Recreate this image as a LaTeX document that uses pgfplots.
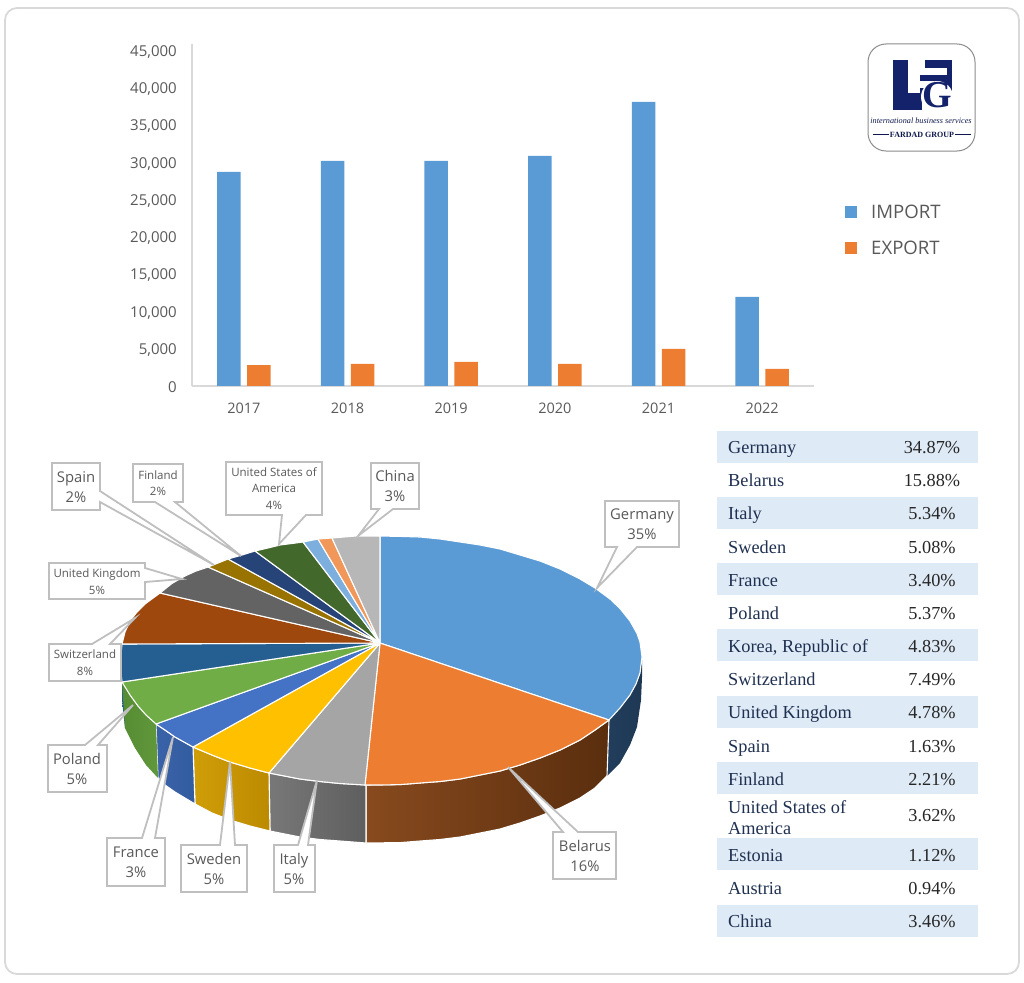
\documentclass[border=0pt]{standalone}
\usepackage{fontspec}
\usepackage{pgfplots}
\pgfplotsset{compat=1.18}
\setmainfont{Open Sans}
\newfontfamily\tabfont{Liberation Serif}
\definecolor{tick}{HTML}{595959}
\definecolor{axln}{HTML}{D9D9D9}
\definecolor{band}{HTML}{DEEAF6}
\definecolor{navy}{HTML}{14216B}
\definecolor{tname}{HTML}{1F3050}
\definecolor{cog}{HTML}{BFBFBF}
\definecolor{cGermany}{HTML}{5B9BD5}
\definecolor{cBelarus}{HTML}{ED7D31}
\definecolor{cItaly}{HTML}{A5A5A5}
\definecolor{cSweden}{HTML}{FFC000}
\definecolor{cFrance}{HTML}{4472C4}
\definecolor{cPoland}{HTML}{70AD47}
\definecolor{cKorea}{HTML}{255E91}
\definecolor{cSwiss}{HTML}{9E480E}
\definecolor{cUK}{HTML}{636363}
\definecolor{cSpain}{HTML}{997300}
\definecolor{cFinland}{HTML}{264478}
\definecolor{cUSA}{HTML}{43682B}
\definecolor{cEstonia}{HTML}{7CAFDD}
\definecolor{cAustria}{HTML}{F1975A}
\definecolor{cChina}{HTML}{B7B7B7}
\newcommand{\fs}[2]{\fontsize{#1}{#2}\selectfont}
\tikzset{co/.style={draw=cog,fill=white,line width=1.8pt,line join=miter},
  lb/.style={text=tick,align=center,inner sep=0pt},
  big/.style={lb,font=\fs{14.8}{20}},
  small/.style={lb,font=\fs{11.5}{16.5}},
  wd/.style={draw=white,line width=1.1pt,line join=round},
  tn/.style={inner sep=0pt,text=tname,font=\tabfont\fs{18.3}{21}}}
\newcommand{\trow}[3]{\node[tn,anchor=base west,yshift=-6pt] at (728,#1) {#2};
  \node[tn,text=black!85,anchor=base,yshift=-6pt] at (932,#1) {#3};}
\newcommand{\bandrow}[2]{\fill[band] (717,#1) rectangle (978,#2);}
\begin{document}
\begin{tikzpicture}
\useasboundingbox (0,0) rectangle (1024pt,982pt);
\begin{axis}[at={(0pt,0pt)},anchor=south west,width=1024pt,height=982pt,scale only axis,
  xmin=0,xmax=1024,ymin=0,ymax=982,y dir=reverse,hide axis,clip=false]
% frame
\draw[draw=axln,line width=1.8pt,rounded corners=12pt] (5,8) rectangle (1019,974);
% y axis stub above the top tick
\draw[draw=axln,line width=1.6pt] (192,44) -- (192,52);
% logo
\draw[draw=black!45,line width=1pt,rounded corners=18pt] (868,44) rectangle (975,151);
\fill[navy] (893,60) rectangle (952,110);
\fill[white] (908,60) rectangle (925,68);
\fill[white] (908,68) rectangle (947,75);
\fill[white] (908,68) rectangle (920,93);
\fill[white] (908,81) rectangle (934,88);
\fill[white] (937,97) circle (16pt);
\fill[white] (922,98) rectangle (952,110);
\node[inner sep=0pt,text=navy] at (937,95) {\tabfont\bfseries\fs{38}{38}G};
\node[inner sep=0pt,text=navy!70!black] at (921,121) {\tabfont\itshape\fs{8.2}{9}international business services};
\node[inner sep=0pt,text=navy!70!black] at (922,134.5) {\tabfont\bfseries\fs{8}{9}FARDAD GROUP};
\draw[navy!70!black,line width=.8pt] (873,134.5) -- (889,134.5) (955,134.5) -- (971,134.5);
% table bands
\bandrow{431}{463}
\bandrow{497}{529}
\bandrow{563}{595}
\bandrow{629}{661}
\bandrow{696}{728}
\bandrow{762}{794}
\bandrow{838}{870}
\bandrow{905}{937}
\trow{447}{Germany}{34.87\%}
\trow{480}{Belarus}{15.88\%}
\trow{513}{Italy}{5.34\%}
\trow{547}{Sweden}{5.08\%}
\trow{580}{France}{3.40\%}
\trow{613}{Poland}{5.37\%}
\trow{646}{Korea, Republic of}{4.83\%}
\trow{679}{Switzerland}{7.49\%}
\trow{712}{United Kingdom}{4.78\%}
\trow{746}{Spain}{1.63\%}
\trow{779}{Finland}{2.21\%}
\trow{807}{United States of}{}
\trow{828}{America}{}
\node[tn,text=black!85,anchor=base,yshift=-6pt] at (932,815) {3.62\%};
\trow{855}{Estonia}{1.12\%}
\trow{888}{Austria}{0.94\%}
\trow{921}{China}{3.46\%}
% pie sides
\addplot[draw=none,left color=cKorea,right color=cKorea!70!black] coordinates {(122,682)(122,700)(125,728)(128,728)(124,690)} --cycle;
\addplot[draw=none,left color={rgb,255:red,34;green,62;blue,92},right color={rgb,255:red,30;green,56;blue,84}] coordinates {(609,720)(620,708)(630,695)(636,684)(640,673)(642,660)(642,677)(641,700)(637,727)(630,745)(620,763)(607,776)} --cycle;
\addplot[wd,left color={rgb,255:red,136;green,74;blue,30},right color={rgb,255:red,90;green,46;blue,14}] coordinates {(609,720)(595,730)(580,740)(560,750)(540,758)(520,765)(500,771)(480,775)(460,779)(440,781.5)(420,783)(400,784.6)(366,785)(366,843)(400,842.6)(420,841)(440,839.5)(460,837)(480,833)(500,829)(520,823)(540,816)(560,808)(580,798)(595,788)(607,776)} --cycle;
\addplot[wd,left color={rgb,255:red,120;green,120;blue,120},right color={rgb,255:red,94;green,94;blue,94}] coordinates {(366,785)(340,783.5)(320,781.5)(300,779)(269,773)(270,831)(300,837)(320,839.5)(340,841)(366,843)} --cycle;
\addplot[wd,left color={rgb,255:red,208;green,158;blue,8},right color={rgb,255:red,188;green,138;blue,0}] coordinates {(269,773)(250,768)(230,762)(212,755)(193,747)(195,804)(212,813)(230,820)(250,826)(270,831)} --cycle;
\addplot[wd,left color={rgb,255:red,58;green,98;blue,168},right color={rgb,255:red,50;green,92;blue,160}] coordinates {(193,747)(175,737)(165,730)(156,724)(158,778)(165,785)(175,792)(195,804)} --cycle;
\addplot[draw=none,left color={rgb,255:red,86;green,140;blue,50},right color={rgb,255:red,98;green,152;blue,60}] coordinates {(156,724)(146,715)(138,706)(130,695)(122,682)(125,728)(135,748)(146,765)(158,778)} --cycle;
% pie tops
\addplot[wd,fill=cGermany] coordinates {(380,643)(380,536)(400,536.4)(420,537)(440,539)(460,542)(480,545)(500,549)(520,555)(540,561)(560,569)(580,579)(595,588)(610,599)(620,608.5)(630,621)(637,633.5)(640,642)(642,657)(640,673)(636,684)(630,695)(620,708)(609,720)} --cycle;
\addplot[wd,fill=cBelarus] coordinates {(380,643)(609,720)(595,730)(580,740)(560,750)(540,758)(520,765)(500,771)(480,775)(460,779)(440,781.5)(420,783)(400,784.6)(380,785)(365,785)} --cycle;
\addplot[wd,fill=cItaly] coordinates {(380,643)(365,785)(340,783.5)(320,781.5)(300,779)(269,773)} --cycle;
\addplot[wd,fill=cSweden] coordinates {(380,643)(269,773)(250,768)(230,762)(212,755)(193,747)} --cycle;
\addplot[wd,fill=cFrance] coordinates {(380,643)(193,747)(175,737)(165,730)(156,724)} --cycle;
\addplot[wd,fill=cPoland] coordinates {(380,643)(156,724)(146,715)(138,706)(130,695)(122,682)} --cycle;
\addplot[wd,fill=cKorea] coordinates {(380,643)(122,682)(120,664)(122,644)} --cycle;
\addplot[wd,fill=cSwiss] coordinates {(380,643)(122,644)(125,632)(130,621)(137,612)(145,604)(160,593)} --cycle;
\addplot[wd,fill=cUK] coordinates {(380,643)(160,593)(172,583.4)(185,576)(196,571)(208,567)} --cycle;
\addplot[wd,fill=cSpain] coordinates {(380,643)(208,567)(218,563)(228,559)} --cycle;
\addplot[wd,fill=cFinland] coordinates {(380,643)(228,559)(242,555)(255,551)} --cycle;
\addplot[wd,fill=cUSA] coordinates {(380,643)(255,551)(268,548)(280,545)(292,543.5)(303,542)} --cycle;
\addplot[wd,fill=cEstonia] coordinates {(380,643)(303,542)(318,539)} --cycle;
\addplot[wd,fill=cAustria] coordinates {(380,643)(318,539)(332,538)} --cycle;
\addplot[wd,fill=cChina] coordinates {(380,643)(332,538)(356,536)(380,536)} --cycle;
% callouts
\draw[co] (605,501) -- (679,501) -- (679,547) -- (637,547) -- (597,588) -- (617,547) -- (605,547) -- cycle;
\node[big] at (642,524) {Germany\\35\%};
\draw[co] (553,832) -- (563,832) -- (508,767) -- (578,832) -- (616,832) -- (616,879) -- (553,879) -- cycle;
\node[big] at (585,856) {Belarus\\16\%};
\draw[co] (371,463) -- (419,463) -- (419,509) -- (393,509) -- (358,536) -- (379,509) -- (371,509) -- cycle;
\node[big] at (395,486) {China\\3\%};
\draw[co] (226,462) -- (322,462) -- (322,515) -- (306,515) -- (279,544) -- (282,515) -- (226,515) -- cycle;
\node[small] at (274,488.5) {United States of\\America\\4\%};
\draw[co] (133,464) -- (183,464) -- (183,502) -- (175,502) -- (241,556) -- (155,502) -- (133,502) -- cycle;
\node[small] at (158,483) {Finland\\2\%};
\draw[co] (52,463) -- (100,463) -- (100,491) -- (214,565) -- (100,502) -- (100,510) -- (52,510) -- cycle;
\node[big] at (76,487) {Spain\\2\%};
\draw[co] (49,563) -- (145,563) -- (145,568) -- (182,579) -- (145,582) -- (145,599) -- (49,599) -- cycle;
\node[small] at (97,581.5) {United Kingdom\\5\%};
\draw[co] (49,644) -- (92,644) -- (135,618) -- (110,644) -- (121,644) -- (121,681) -- (49,681) -- cycle;
\node[small] at (85,662.5) {Switzerland\\8\%};
\draw[co] (48,745) -- (85,745) -- (133,705) -- (98,745) -- (107,745) -- (107,792) -- (48,792) -- cycle;
\node[big] at (77,768.5) {Poland\\5\%};
\draw[co] (107,838) -- (142,838) -- (173,737) -- (155,838) -- (165,838) -- (165,886) -- (107,886) -- cycle;
\node[big] at (136,862) {France\\3\%};
\draw[co] (181,845) -- (220,845) -- (230,762) -- (235,845) -- (247,845) -- (247,892) -- (181,892) -- cycle;
\node[big] at (214,869) {Sweden\\5\%};
\draw[co] (274,845) -- (298,845) -- (317,780) -- (308,845) -- (315,845) -- (315,892) -- (274,892) -- cycle;
\node[big] at (294,869) {Italy\\5\%};
\end{axis}
% bar chart
\begin{axis}[at={(192pt,596pt)},anchor=south west,width=622pt,height=335pt,scale only axis,
  ymin=0,ymax=45000,xmin=-0.5,xmax=5.5,
  xtick={0,1,2,3,4,5},xticklabels={2017,2018,2019,2020,2021,2022},
  ytick={0,5000,10000,15000,20000,25000,30000,35000,40000,45000},
  scaled y ticks=false,
  /pgf/number format/assume math mode=true,
  /pgf/number format/1000 sep={,},
  /pgf/number format/fixed,
  tick style={draw=none},
  axis x line*=bottom,axis y line*=left,
  axis line style={draw=axln,line width=1.6pt,-},
  yticklabel style={font=\fs{15}{18},text=tick,inner sep=0pt,xshift=-15pt,yshift=-1pt},
  xticklabel style={font=\fs{14.5}{18},text=tick,inner sep=0pt,yshift=-17pt},
  legend style={at={(653pt,155.5pt)},anchor=west,draw=none,fill=none,font=\fs{18.6}{20},text=tick,
    row sep=17pt,inner sep=0pt},
  legend cell align=left,
  clip=false]
\addplot[ybar,draw=none,fill=cGermany,bar width=23.5pt,bar shift=-15pt,
  legend image code/.code={\fill[cGermany] (0pt,-6pt) rectangle (12pt,6pt);}] coordinates {(0,28760)(1,30240)(2,30240)(3,30910)(4,38170)(5,11960)};
\addlegendentry{\hspace{12pt}IMPORT}
\addplot[ybar,draw=none,fill=cBelarus,bar width=23.5pt,bar shift=15pt,
  legend image code/.code={\fill[cBelarus] (0pt,-6pt) rectangle (12pt,6pt);}] coordinates {(0,2820)(1,2960)(2,3225)(3,2960)(4,4970)(5,2285)};
\addlegendentry{\hspace{12pt}EXPORT}
\end{axis}
\end{tikzpicture}
\end{document}
